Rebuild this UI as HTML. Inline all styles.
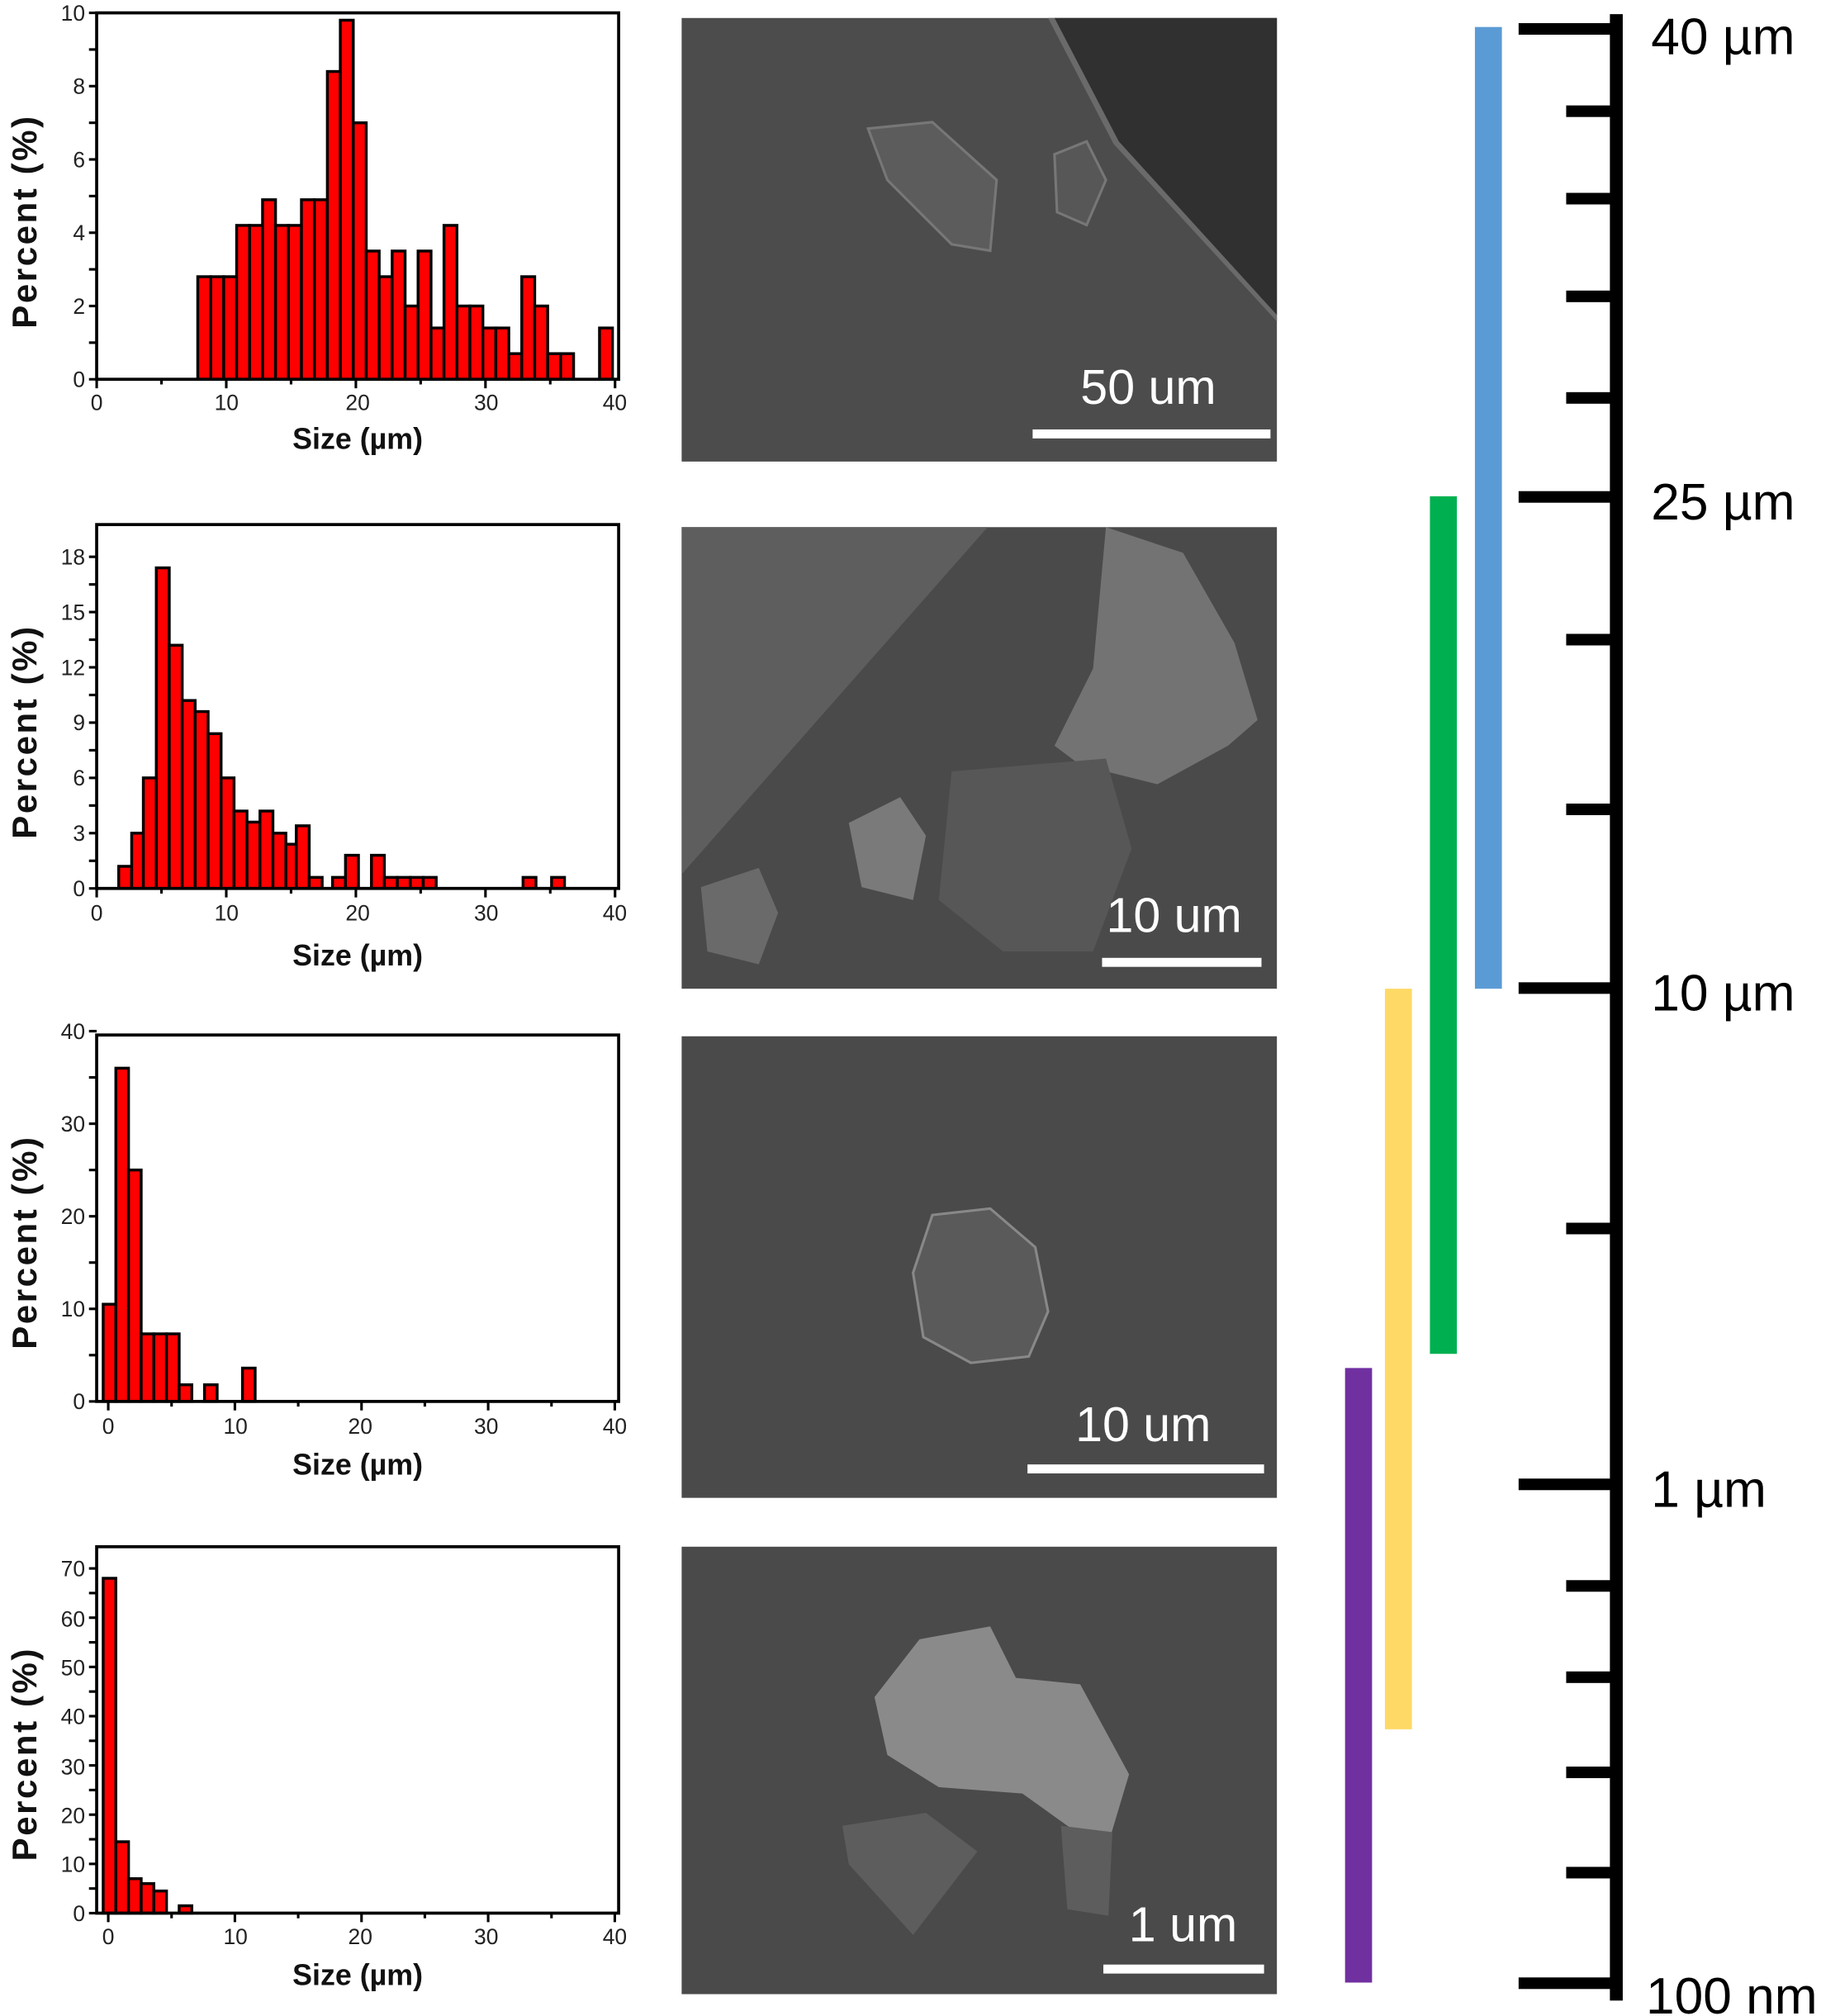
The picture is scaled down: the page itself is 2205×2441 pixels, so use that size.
<!DOCTYPE html>
<html><head><meta charset="utf-8"><style>
html,body{margin:0;padding:0;background:#fff}
svg{display:block}
text{font-family:"Liberation Sans",Arial,sans-serif}
.tk{font-size:17px;fill:#222}
.al{font-size:23px;font-weight:bold;fill:#111}
.pl{font-size:27px;font-weight:bold;fill:#111}
.sb{font-size:38px;fill:#fff}
.sc{font-size:40px;fill:#000}
</style></head><body>
<svg width="2205" height="2441" viewBox="0 0 1416 1568" xmlns="http://www.w3.org/2000/svg">
<g id="bars" fill="#ff0000" stroke="#000" stroke-width="2.2"></g>
<g stroke="#000" stroke-width="2.4" fill="none">
<rect x="75" y="10" width="406" height="285"/>
<rect x="75" y="408" width="406" height="283"/>
<rect x="75" y="805" width="406" height="285"/>
<rect x="75" y="1203" width="406" height="285"/>
</g>
<g id="ticks" stroke="#000" stroke-width="2"></g>
<g class="tk" text-anchor="middle">
<text x="75" y="319">0</text><text x="176" y="319">10</text><text x="278" y="319">20</text><text x="378" y="319">30</text><text x="478" y="319">40</text>
<text x="75" y="716">0</text><text x="176" y="716">10</text><text x="278" y="716">20</text><text x="378" y="716">30</text><text x="478" y="716">40</text>
<text x="84" y="1115">0</text><text x="183" y="1115">10</text><text x="280" y="1115">20</text><text x="378" y="1115">30</text><text x="478" y="1115">40</text>
<text x="84" y="1512">0</text><text x="183" y="1512">10</text><text x="280" y="1512">20</text><text x="378" y="1512">30</text><text x="478" y="1512">40</text>
</g>
<g class="tk" text-anchor="end">
<text x="66" y="301">0</text><text x="66" y="244">2</text><text x="66" y="187">4</text><text x="66" y="130">6</text><text x="66" y="73">8</text><text x="66" y="16">10</text>
<text x="66" y="697">0</text><text x="66" y="654">3</text><text x="66" y="611">6</text><text x="66" y="568">9</text><text x="66" y="525">12</text><text x="66" y="482">15</text><text x="66" y="439">18</text>
<text x="66" y="1096">0</text><text x="66" y="1024">10</text><text x="66" y="952">20</text><text x="66" y="880">30</text><text x="66" y="808">40</text>
<text x="66" y="1494">0</text><text x="66" y="1456">10</text><text x="66" y="1418">20</text><text x="66" y="1380">30</text><text x="66" y="1341">40</text><text x="66" y="1303">50</text><text x="66" y="1265">60</text><text x="66" y="1226">70</text>
</g>
<g class="al" text-anchor="middle">
<text x="278" y="349">Size (µm)</text>
<text x="278" y="751">Size (µm)</text>
<text x="278" y="1147">Size (µm)</text>
<text x="278" y="1544">Size (µm)</text>
</g>
<g class="pl" text-anchor="middle">
<text transform="translate(28,173) rotate(-90)" textLength="165">Percent (%)</text>
<text transform="translate(28,570) rotate(-90)" textLength="165">Percent (%)</text>
<text transform="translate(28,967) rotate(-90)" textLength="165">Percent (%)</text>
<text transform="translate(28,1365) rotate(-90)" textLength="165">Percent (%)</text>
</g>
<rect x="530" y="14" width="463" height="345" fill="#4c4c4c"/>
<polygon points="820,14 993,14 993,245 870,110" fill="#303030"/>
<polygon points="820,14 870,110 993,245 993,250 866,112 815,14" fill="#6a6a6a"/>
<polygon points="675,100 725,95 775,140 770,195 740,190 690,140" fill="#5c5c5c" stroke="#777" stroke-width="2"/>
<polygon points="820,120 845,110 860,140 845,175 822,165" fill="#575757" stroke="#777" stroke-width="2"/>
<text class="sb" x="893" y="314" text-anchor="middle">50 um</text>
<rect x="803" y="334" width="185" height="7" fill="#fff"/>

<rect x="530" y="410" width="463" height="359" fill="#4a4a4a"/>
<polygon points="530,410 768,410 530,680" fill="#5e5e5e"/>
<polygon points="860,410 920,430 960,500 978,560 955,580 900,610 840,595 820,580 850,520" fill="#737373"/>
<polygon points="660,640 700,620 720,650 710,700 670,690" fill="#7a7a7a"/>
<polygon points="545,690 590,675 605,710 590,750 550,740" fill="#6a6a6a"/>
<polygon points="740,600 860,590 880,660 850,740 780,740 730,700" fill="#575757"/>
<text class="sb" x="913" y="725" text-anchor="middle">10 um</text>
<rect x="857" y="745" width="124" height="7" fill="#fff"/>

<rect x="530" y="806" width="463" height="359" fill="#4a4a4a"/>
<polygon points="725,945 770,940 805,970 815,1020 800,1055 755,1060 718,1040 710,990" fill="#5a5a5a" stroke="#888" stroke-width="2"/>
<text class="sb" x="889" y="1121" text-anchor="middle">10 um</text>
<rect x="799" y="1139" width="184" height="7" fill="#fff"/>

<rect x="530" y="1203" width="463" height="348" fill="#4a4a4a"/>
<polygon points="715,1275 770,1265 790,1305 840,1310 878,1380 860,1440 830,1420 795,1395 730,1390 690,1365 680,1320" fill="#8a8a8a"/>
<polygon points="655,1420 720,1410 760,1440 710,1505 660,1450" fill="#5d5d5d"/>
<polygon points="825,1420 865,1425 862,1490 830,1485" fill="#5d5d5d"/>
<text class="sb" x="920" y="1510" text-anchor="middle">1 um</text>
<rect x="858" y="1528" width="125" height="7" fill="#fff"/>

<rect x="1147" y="21" width="21" height="748" fill="#5b9bd5"/>
<rect x="1112" y="386" width="21" height="667" fill="#00b050"/>
<rect x="1077" y="769" width="21" height="576" fill="#ffd966"/>
<rect x="1046" y="1064" width="21" height="478" fill="#7030a0"/>
<rect x="1252" y="11" width="10" height="1545" fill="#000"/>
<g fill="#000">
<rect x="1181" y="18" width="74" height="9"/>
<rect x="1181" y="382" width="74" height="9"/>
<rect x="1181" y="764" width="74" height="9"/>
<rect x="1181" y="1150" width="74" height="9"/>
<rect x="1181" y="1538" width="74" height="9"/>
<rect x="1218" y="82" width="37" height="9"/>
<rect x="1218" y="150" width="37" height="9"/>
<rect x="1218" y="226" width="37" height="9"/>
<rect x="1218" y="305" width="37" height="9"/>
<rect x="1218" y="493" width="37" height="9"/>
<rect x="1218" y="625" width="37" height="9"/>
<rect x="1218" y="951" width="37" height="9"/>
<rect x="1218" y="1229" width="37" height="9"/>
<rect x="1218" y="1300" width="37" height="9"/>
<rect x="1218" y="1374" width="37" height="9"/>
<rect x="1218" y="1452" width="37" height="9"/>
</g>
<text class="sc" x="1284" y="42">40 µm</text>
<text class="sc" x="1284" y="404">25 µm</text>
<text class="sc" x="1284" y="786">10 µm</text>
<text class="sc" x="1284" y="1172">1 µm</text>
<text class="sc" x="1280" y="1566">100 nm</text>
</svg>
<script>
var NS="http://www.w3.org/2000/svg",g=document.getElementById("bars"),t=document.getElementById("ticks");
function R(x,y,w,h){var r=document.createElementNS(NS,"rect");r.setAttribute("x",x);r.setAttribute("y",y);r.setAttribute("width",w);r.setAttribute("height",h);g.appendChild(r);}
function L(x1,y1,x2,y2){var l=document.createElementNS(NS,"line");l.setAttribute("x1",x1);l.setAttribute("y1",y1);l.setAttribute("x2",x2);l.setAttribute("y2",y2);t.appendChild(l);}
function hist(x0,xs,y0,ys,start,vals){for(var i=0;i<vals.length;i++){if(vals[i]<=0)continue;R(x0+(start+i)*xs,y0-vals[i]*ys,xs,vals[i]*ys);}}
function pts(x0,xs,y0,ys,w,list){list.forEach(function(p){R(x0+p[0]*xs,y0-p[1]*ys,w*xs,p[1]*ys);});}
hist(75,10.08,295,28.5,7.8,[2.8,2.8,2.8,4.2,4.2,4.9,4.2,4.2,4.9,4.9,8.4,9.8,7,3.5,2.8,3.5,2,3.5,1.4,4.2,2,2,1.4,1.4,0.7,2.8,2,0.7,0.7,0,0,1.4]);
pts(75,10.08,691,14.33,1,[[1.7,1.2],[2.7,3],[3.6,6],[4.6,17.4],[5.6,13.2],[6.6,10.2],[7.6,9.6],[8.6,8.4],[9.6,6],[10.6,4.2],[11.6,3.6],[12.6,4.2],[13.6,3],[14.6,2.4],[15.4,3.4],[16.4,0.6],[18.2,0.6],[19.2,1.8],[21.2,1.8],[22.2,0.6],[23.2,0.6],[24.2,0.6],[25.2,0.6],[32.9,0.6],[35.1,0.6]]);
hist(84,9.85,1090,7.2,-0.4,[10.5,36,25,7.3,7.3,7.3,1.8,0,1.8,0,0,3.6]);
hist(84,9.85,1488,3.83,-0.4,[68,14.5,7,6,4.5,0,1.5]);
[[75,10.08,295],[75,10.08,691],[84,9.85,1090],[84,9.85,1488]].forEach(function(p){for(var v=0;v<=40;v+=5){var x=p[0]+v*p[1];L(x,p[2],x,p[2]+(v%10?4:7));}});
[[295,28.5,1,10],[691,14.33,1.5,19],[1090,7.2,5,40],[1488,3.83,5,70]].forEach(function(p){for(var v=0;v<=p[3]+0.01;v+=p[2]){var y=p[0]-v*p[1];L(75,y,69,y);}});
</script>
</body></html>
